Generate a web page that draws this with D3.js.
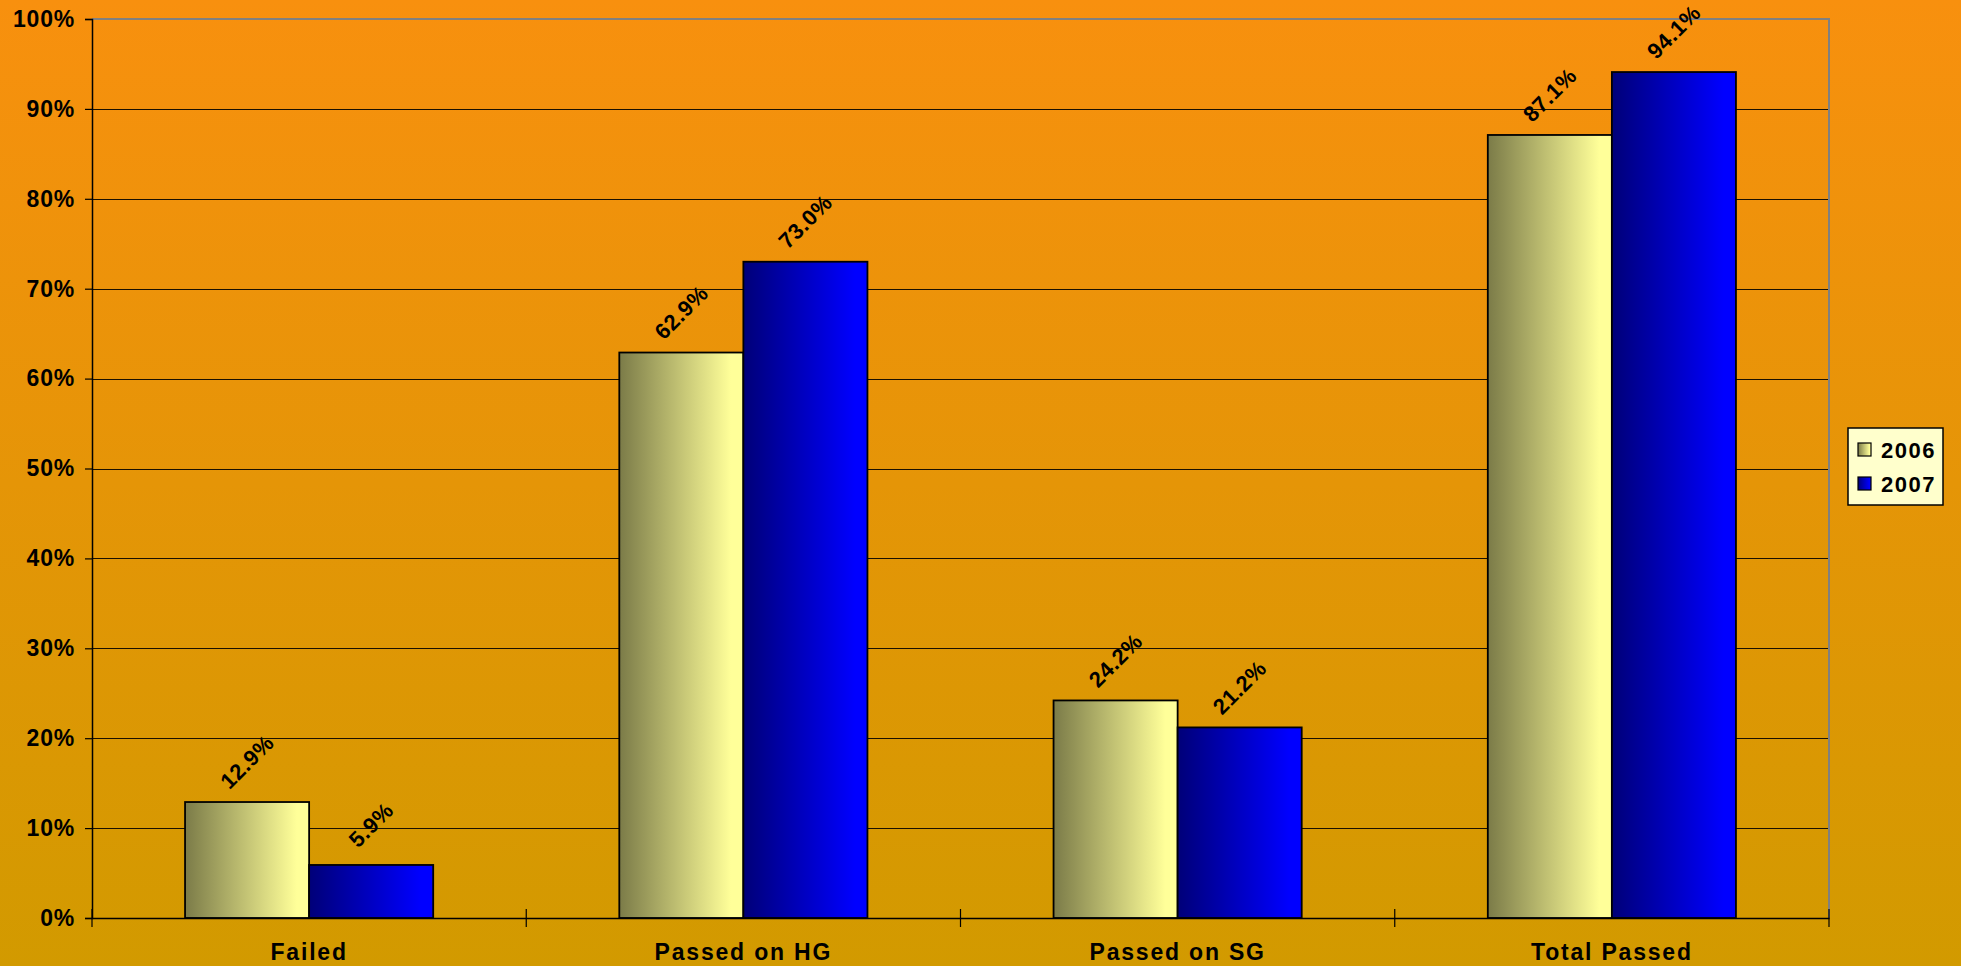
<!DOCTYPE html>
<html>
<head>
<meta charset="utf-8">
<script src="https://cdn.jsdelivr.net/npm/d3@7"></script>
<style>
  html, body { margin: 0; padding: 0; }
  svg { display: block; font-family: Arial, "Liberation Sans", sans-serif; }
</style>
</head>
<body>
<svg id="chart" width="1961" height="966"></svg>
<script>
// data
const categories = ["Failed", "Passed on HG", "Passed on SG", "Total Passed"];
const years = ["2006", "2007"];
const values2006 = [12.9, 62.9, 24.2, 87.1];
const values2007 = [5.9, 73.0, 21.2, 94.1];
const yTicks = [0, 10, 20, 30, 40, 50, 60, 70, 80, 90, 100];

const W = 1961, H = 966;
const margin = {top: 19, right: 132, bottom: 48, left: 92};
const svg = d3.select("#chart");
const defs = svg.append("defs");

// background gradient (orange -> mustard)
let bg = defs.append("linearGradient").attr("id", "bg")
  .attr("x1", 0).attr("y1", 0).attr("x2", 0).attr("y2", 1);
bg.append("stop").attr("offset", "0%").attr("stop-color", "#f8900e");
bg.append("stop").attr("offset", "100%").attr("stop-color", "#d29a00");

// bar gradients
function barGrad(id, c0, c1){
  let g = defs.append("linearGradient").attr("id", id)
    .attr("x1", 0).attr("y1", 0).attr("x2", 1).attr("y2", 0);
  g.append("stop").attr("offset", "0%").attr("stop-color", c0);
  g.append("stop").attr("offset", "90%").attr("stop-color", c1);
  g.append("stop").attr("offset", "100%").attr("stop-color", c1);
}
barGrad("g2006", "#7b7b48", "#ffff99");
barGrad("g2007", "#000078", "#0000ff");
const fills = {"2006": "url(#g2006)", "2007": "url(#g2007)"};

svg.append("rect").attr("width", W).attr("height", H).attr("fill", "url(#bg)");

const x0 = margin.left, x1 = W - margin.right;
const yTop = margin.top, yBot = H - margin.bottom;

const x = d3.scaleBand().domain(categories).range([x0, x1]).paddingInner(0).paddingOuter(0);
const xs = d3.scaleBand().domain(years).range([0, x.bandwidth()]).paddingOuter(0.75).paddingInner(0);
const y = d3.scaleLinear().domain([0, 100]).range([yBot, yTop]);

// gridlines
svg.append("g").selectAll("line").data(yTicks.filter(d => d > 0 && d < 100)).enter()
  .append("line")
  .attr("x1", x0).attr("x2", x1)
  .attr("y1", d => Math.round(y(d)) + 0.5).attr("y2", d => Math.round(y(d)) + 0.5)
  .attr("stroke", "#1a1000").attr("stroke-width", 1);

// plot border top/right (gray)
svg.append("path")
  .attr("d", `M${x0},${yTop} L${x1},${yTop} L${x1},${yBot}`)
  .attr("fill", "none").attr("stroke", "#808080").attr("stroke-width", 2);

// y axis
const yAxis = d3.axisLeft(y).tickValues(yTicks).tickFormat(d => d + "%").tickSize(7).tickPadding(10);
const gy = svg.append("g").attr("transform", `translate(${x0},0)`).call(yAxis);
gy.select(".domain").attr("stroke", "#000").attr("stroke-width", 1.5);
gy.selectAll(".tick line").attr("stroke", "#000").attr("stroke-width", 1.2);
gy.selectAll("text").attr("font-size", 23).attr("font-weight", "bold").attr("fill", "#000")
  .attr("letter-spacing", 0.8);

// bars
const rows = categories.map((c, i) => ({cat: c, vals: [
  {year: "2006", v: values2006[i]}, {year: "2007", v: values2007[i]}]}));

const grp = svg.append("g").selectAll("g").data(rows).enter()
  .append("g").attr("transform", d => `translate(${x(d.cat)},0)`);

grp.selectAll("rect").data(d => d.vals).enter()
  .append("rect")
  .attr("x", d => xs(d.year))
  .attr("y", d => y(d.v))
  .attr("width", xs.bandwidth())
  .attr("height", d => yBot - y(d.v))
  .attr("fill", d => fills[d.year])
  .attr("stroke", "#000").attr("stroke-width", 1.8);

grp.selectAll("text").data(d => d.vals).enter()
  .append("text")
  .attr("transform", d => `translate(${xs(d.year) + xs.bandwidth() / 2},${y(d.v) - 40}) rotate(-45)`)
  .attr("text-anchor", "middle")
  .attr("dominant-baseline", "central")
  .attr("font-size", 22).attr("font-weight", "bold").attr("fill", "#000")
  .attr("letter-spacing", 0.5)
  .text(d => d.v.toFixed(1) + "%");

// x axis
const xAxis = d3.axisBottom(x).tickSize(0).tickPadding(26);
const gx = svg.append("g").attr("transform", `translate(0,${yBot})`).call(xAxis);
gx.select(".domain").attr("stroke", "#000").attr("stroke-width", 1.5);
gx.selectAll("text").attr("font-size", 23).attr("font-weight", "bold").attr("fill", "#000")
  .attr("letter-spacing", 1.8);
// cross ticks at category boundaries
const bounds = categories.map(c => x(c)).concat([x1]);
svg.append("g").selectAll("line").data(bounds).enter()
  .append("line")
  .attr("x1", d => d).attr("x2", d => d)
  .attr("y1", yBot - 9).attr("y2", yBot + 9)
  .attr("stroke", "#000").attr("stroke-width", 1.2);

// legend
const lg = svg.append("g").attr("transform", "translate(1848,428)");
lg.append("rect").attr("width", 95).attr("height", 77)
  .attr("fill", "#ffffcc").attr("stroke", "#000").attr("stroke-width", 1.5);
const li = lg.selectAll("g").data(years).enter()
  .append("g").attr("transform", (d, i) => `translate(10,${15 + i * 34})`);
li.append("rect").attr("width", 13).attr("height", 13)
  .attr("fill", d => fills[d]).attr("stroke", "#000").attr("stroke-width", 1.2);
li.append("text").attr("x", 23).attr("y", 7).attr("dominant-baseline", "central")
  .attr("font-size", 22).attr("font-weight", "bold").attr("fill", "#000")
  .attr("letter-spacing", 1.5)
  .text(d => d);
</script>
</body>
</html>
